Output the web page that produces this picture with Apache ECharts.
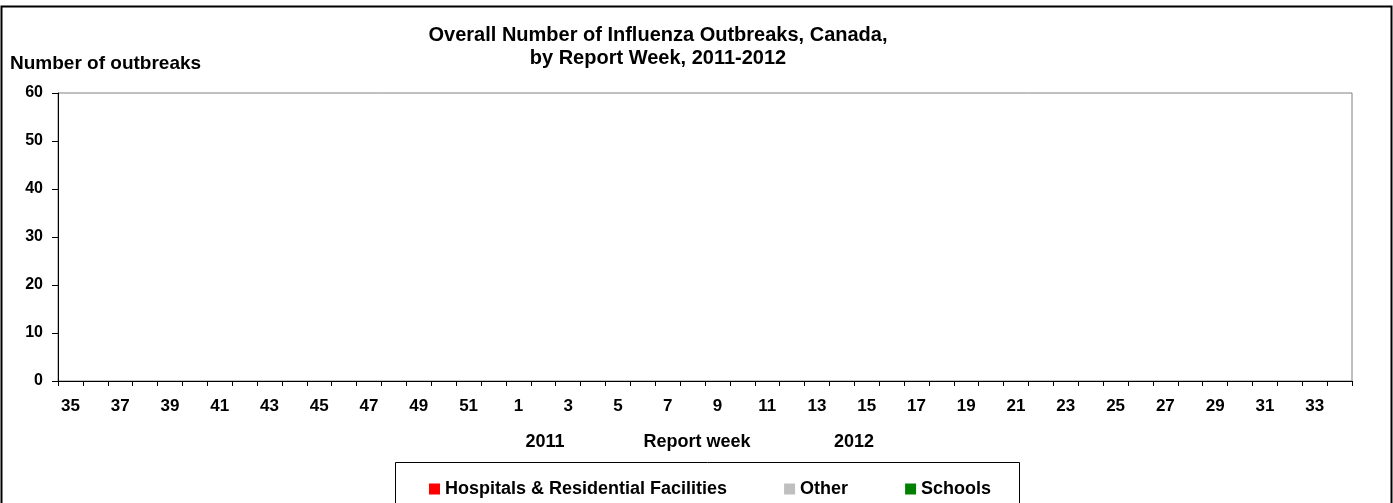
<!DOCTYPE html>
<html>
<head>
<meta charset="utf-8">
<script src="https://cdn.jsdelivr.net/npm/echarts@6/dist/echarts.min.js"></script>
<style>
html,body{margin:0;padding:0;background:#fff;}
#chart{width:1393px;height:503px;}
</style>
</head>
<body>
<div id="chart"></div>
<script>
// Report weeks 35-52 (2011) and 1-34 (2012)
const weeks = ['35','36','37','38','39','40','41','42','43','44','45','46','47','48','49','50','51','52',
  '1','2','3','4','5','6','7','8','9','10','11','12','13','14','15','16','17','18','19','20','21','22',
  '23','24','25','26','27','28','29','30','31','32','33','34'];
// No outbreak bars are shown in the reference chart
const hospitals = [];
const other = [];
const schools = [];
const yTicks = [0, 10, 20, 30, 40, 50, 60];
const seriesNames = ['Hospitals & Residential Facilities', 'Other', 'Schools'];
const titleText = 'Overall Number of Influenza Outbreaks, Canada,\nby Report Week, 2011-2012';

const FONT = '"Liberation Sans", Arial, sans-serif';
const chart = echarts.init(document.getElementById('chart'), null, {renderer: 'canvas'});
const option = {
  backgroundColor: '#fff',
  animation: false,
  grid: {left: 58, top: 93, right: 41, bottom: 122, show: true, borderColor: '#808080', borderWidth: 1, backgroundColor: 'transparent'},
  legend: {
    left: 424, top: 475, itemWidth: 11, itemHeight: 11, itemGap: 57, icon: 'rect',
    textStyle: {fontFamily: FONT, fontWeight: 'bold', fontSize: 18, color: '#000'},
    data: seriesNames
  },
  xAxis: {
    type: 'category', data: weeks, boundaryGap: true,
    axisLine: {lineStyle: {color: '#000', width: 1}},
    axisTick: {show: true, interval: 0, length: 5, lineStyle: {color: '#000'}},
    axisLabel: {interval: 1, margin: 17, fontFamily: FONT, fontWeight: 'bold', fontSize: 17, color: '#000'}
  },
  yAxis: {
    type: 'value', min: yTicks[0], max: yTicks[yTicks.length - 1], interval: 10,
    axisLine: {show: true, lineStyle: {color: '#000', width: 1}},
    axisTick: {show: true, length: 6, lineStyle: {color: '#000'}},
    splitLine: {show: false},
    axisLabel: {margin: 15, fontFamily: FONT, fontWeight: 'bold', fontSize: 16, color: '#000'}
  },
  series: [
    {name: seriesNames[0], type: 'bar', stack: 'o', data: hospitals, itemStyle: {color: '#ff0000'}},
    {name: seriesNames[1], type: 'bar', stack: 'o', data: other, itemStyle: {color: '#bfbfbf'}},
    {name: seriesNames[2], type: 'bar', stack: 'o', data: schools, itemStyle: {color: '#008000'}}
  ],
  graphic: [
    {type: 'rect', shape: {x: 1.5, y: 6.5, width: 1390, height: 600}, style: {fill: 'none', stroke: '#000', lineWidth: 2}, silent: true, z: -1},
    {type: 'rect', shape: {x: 395.5, y: 462.5, width: 624, height: 100}, style: {fill: 'none', stroke: '#000', lineWidth: 1}, silent: true, z: -1},
    {type: 'text', x: 658, y: 24, style: {text: titleText, textAlign: 'center', font: 'bold 20px ' + FONT, lineHeight: 23, fill: '#000'}},
    {type: 'text', x: 10, y: 54, style: {text: 'Number of outbreaks', font: 'bold 19px ' + FONT, fill: '#000'}},
    {type: 'text', x: 545, y: 433, style: {text: '2011', textAlign: 'center', font: 'bold 18px ' + FONT, fill: '#000'}},
    {type: 'text', x: 697, y: 433, style: {text: 'Report week', textAlign: 'center', font: 'bold 18px ' + FONT, fill: '#000'}},
    {type: 'text', x: 854, y: 433, style: {text: '2012', textAlign: 'center', font: 'bold 18px ' + FONT, fill: '#000'}}
  ]
};
chart.setOption(option);
</script>
</body>
</html>
